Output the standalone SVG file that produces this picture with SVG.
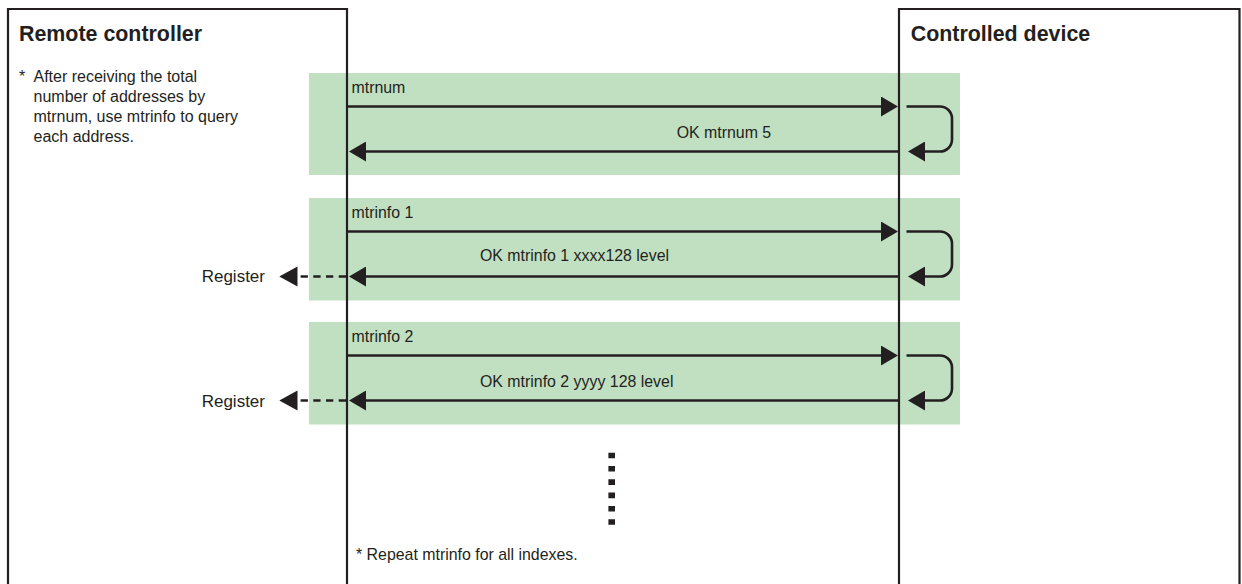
<svg xmlns="http://www.w3.org/2000/svg" width="1242" height="584" viewBox="0 0 1242 584">
<style>
.band{fill:#c1e0c2;}
.box{fill:none;stroke:#231f20;stroke-width:2.2;}
.ln{fill:none;stroke:#231f20;stroke-width:2.6;}
.dash{fill:none;stroke:#231f20;stroke-width:2.6;stroke-dasharray:7.3 5.4;}
.dots{fill:none;stroke:#231f20;stroke-width:6.6;stroke-dasharray:5.6 7.7;}
text{font-family:"Liberation Sans",Arial,sans-serif;fill:#231f20;}
.title{font-size:21.4px;font-weight:bold;}
.note{font-size:16px;}
.lbl{font-size:15.9px;}
.reg{font-size:17px;}
</style>
<defs>
<marker id="ah" markerUnits="userSpaceOnUse" markerWidth="17" markerHeight="20" refX="13" refY="10" orient="auto" viewBox="0 0 17 20">
<path d="M0,0 L17,10 L0,20 Z" fill="#231f20"/>
</marker>
</defs>
<g id="bands">
<rect class="band" x="309" y="73" width="651" height="102"/>
<rect class="band" x="309" y="198" width="651" height="102.5"/>
<rect class="band" x="309" y="322" width="651" height="102.5"/>
</g>
<g id="remote-controller">
<path class="box" d="M8,590 V9 H347 V590"/>
<text class="title" x="19" y="40.5">Remote controller</text>
<text class="note" x="19" y="81.5">*</text>
<text class="note" x="33.5" y="81.5">After receiving the total</text>
<text class="note" x="33.5" y="101.5">number of addresses by</text>
<text class="note" x="33.5" y="121.5">mtrnum, use mtrinfo to query</text>
<text class="note" x="33.5" y="141.5">each address.</text>
</g>
<g id="controlled-device">
<path class="box" d="M899,590 V9 H1239.5 V590"/>
<text class="title" x="910.7" y="40.5">Controlled device</text>
</g>
<g id="connectors">
<!-- mtrnum -->
<line class="ln" x1="347" y1="106.5" x2="894" y2="106.5" marker-end="url(#ah)"/>
<path class="ln" d="M906.5,106.5 H940 A12,12 0 0 1 952,118.5 V139.5 A12,12 0 0 1 940,151.5 H912" marker-end="url(#ah)"/>
<line class="ln" x1="898" y1="151.5" x2="353" y2="151.5" marker-end="url(#ah)"/>
<!-- mtrinfo 1 -->
<line class="ln" x1="347" y1="231.5" x2="894" y2="231.5" marker-end="url(#ah)"/>
<path class="ln" d="M906.5,231.5 H940 A12,12 0 0 1 952,243.5 V264.5 A12,12 0 0 1 940,276.5 H912" marker-end="url(#ah)"/>
<line class="ln" x1="898" y1="276.5" x2="353" y2="276.5" marker-end="url(#ah)"/>
<line class="dash" x1="346" y1="276.5" x2="288" y2="276.5"/>
<path d="M279.3,276.5 L297.5,266.5 L297.5,286.5 Z" fill="#231f20"/>
<!-- mtrinfo 2 -->
<line class="ln" x1="347" y1="355.5" x2="894" y2="355.5" marker-end="url(#ah)"/>
<path class="ln" d="M906.5,355.5 H940 A12,12 0 0 1 952,367.5 V388.5 A12,12 0 0 1 940,400.5 H912" marker-end="url(#ah)"/>
<line class="ln" x1="898" y1="400.5" x2="353" y2="400.5" marker-end="url(#ah)"/>
<line class="dash" x1="346" y1="400.5" x2="288" y2="400.5"/>
<path d="M279.3,400.5 L297.5,390.5 L297.5,410.5 Z" fill="#231f20"/>
<!-- continuation -->
<line class="dots" x1="611.7" y1="452.7" x2="611.7" y2="525.5"/>
</g>
<g id="labels">
<text class="lbl" x="351.5" y="93">mtrnum</text>
<text class="lbl" x="676.7" y="137.5">OK mtrnum 5</text>
<text class="lbl" x="351.5" y="217.5">mtrinfo 1</text>
<text class="lbl" x="480" y="261">OK mtrinfo 1 xxxx128 level</text>
<text class="reg" x="201.7" y="282">Register</text>
<text class="lbl" x="351.5" y="342">mtrinfo 2</text>
<text class="lbl" x="480" y="387">OK mtrinfo 2 yyyy 128 level</text>
<text class="reg" x="201.7" y="406.5">Register</text>
<text class="lbl" x="356" y="560">* Repeat mtrinfo for all indexes.</text>
</g>
</svg>
